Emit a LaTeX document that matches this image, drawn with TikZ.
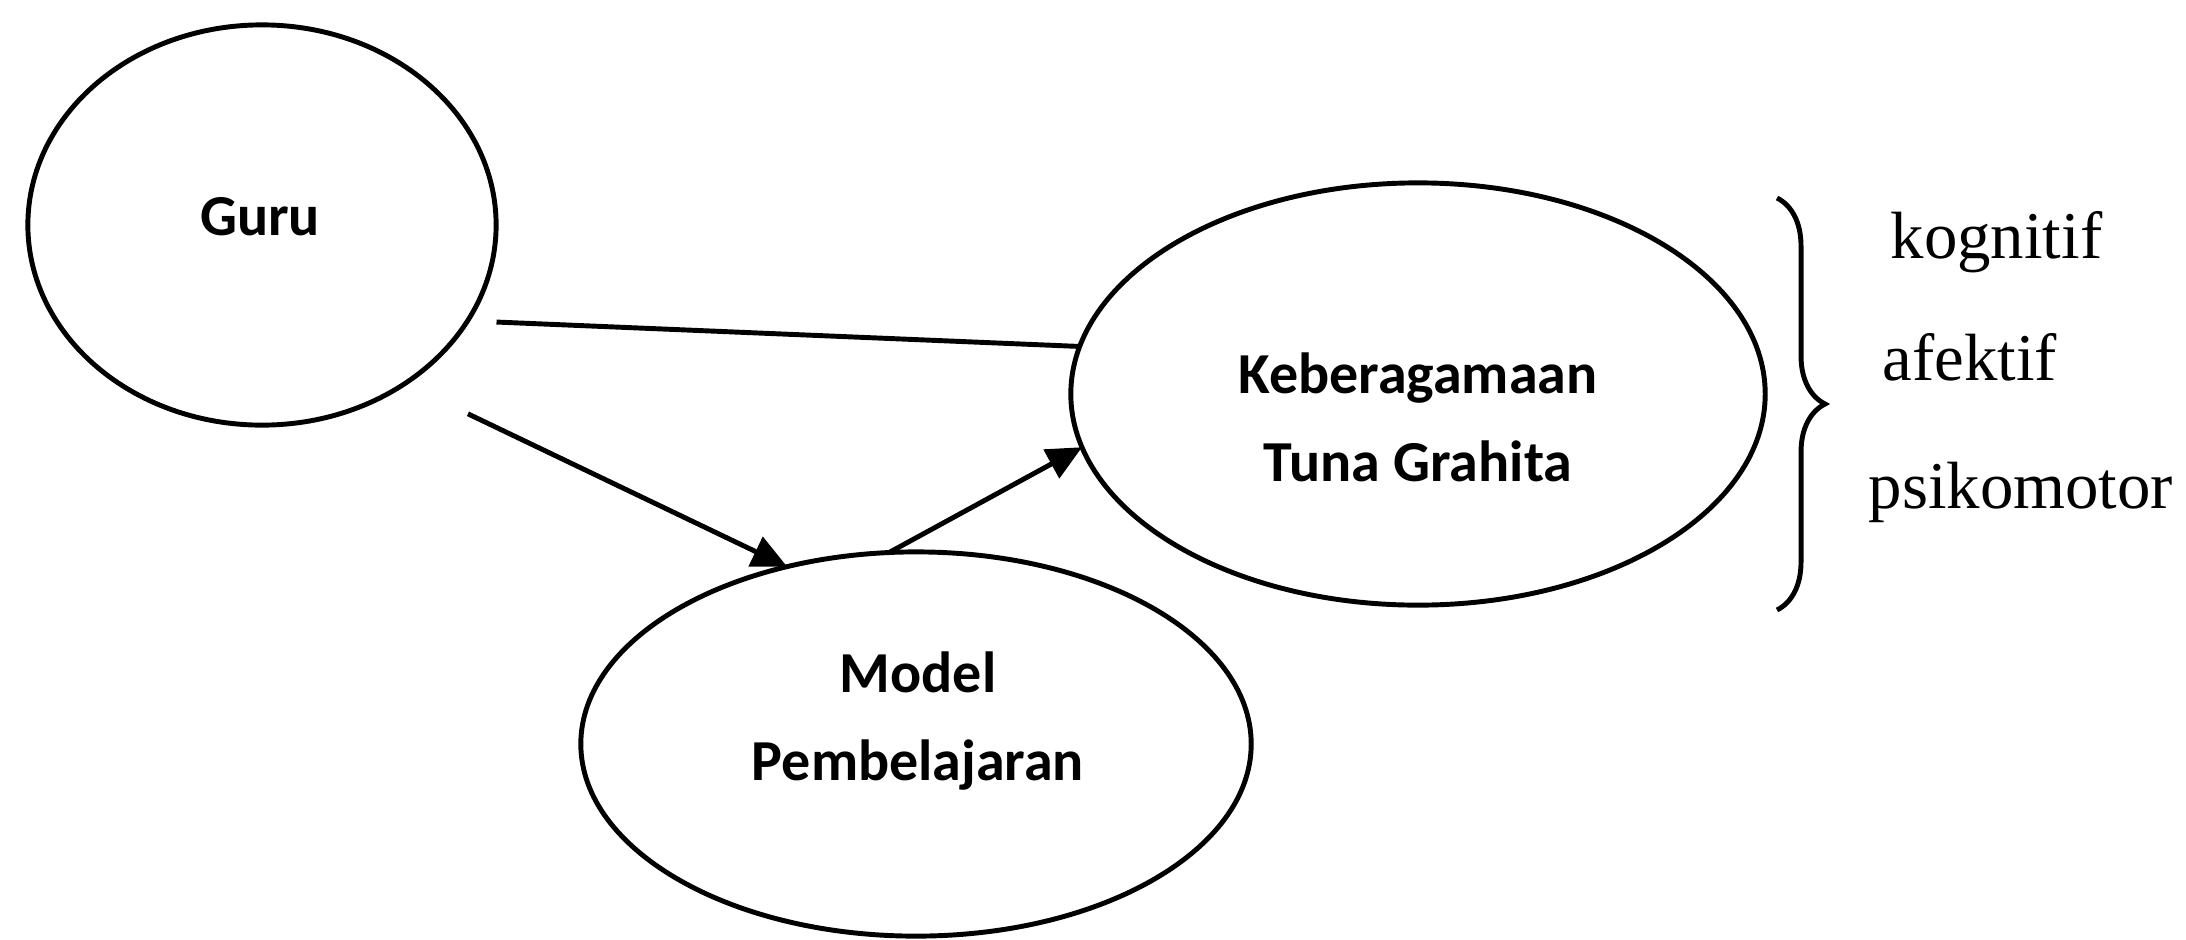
\documentclass[tikz,border=0pt]{standalone}
\usepackage{fontspec}
\setmainfont{Liberation Serif}
\newfontfamily\carlito{Carlito}
\usetikzlibrary{shapes.geometric,arrows.meta,decorations.pathreplacing}
\tikzstyle{bubble}=[ellipse,draw=black,line width=1.4pt,
                    inner sep=0pt,outer sep=0pt]
\tikzstyle{bubbletext}=[font=\carlito\bfseries\fontsize{16.5}{25}\selectfont,
                        align=center,inner sep=0pt]
\tikzstyle{aspect}=[font=\fontsize{19}{23}\selectfont,
                    anchor=base west,inner sep=0pt]
\tikzstyle{link}=[line width=1.4pt]
\tikzstyle{flow}=[link,-{Triangle[length=3.5mm,width=3.2mm]}]

\begin{document}
\begin{tikzpicture}[x=0.01cm,y=-0.01cm]
    \useasboundingbox (0,0) rectangle (2186,939);
    \node (guru)  at ( 262,225) [bubble,minimum width=4.68cm,minimum height=4.00cm]{};
    \node (kebe)  at (1418,394) [bubble,minimum width=6.94cm,minimum height=4.22cm]{};
    \node (model) at ( 916,744) [bubble,minimum width=6.70cm,minimum height=3.84cm]{};
    \node (gurut)  at ( 260,235) [bubbletext,anchor=base]{Guru};
    \node (kebet)  at (1418,417) [bubbletext]{Keberagamaan\\Tuna Grahita};
    \node (modelt) at ( 918,721) [bubbletext]{Model\\Pembelajaran};
    % connectors
    \draw[link,shorten <=2.9mm] (guru.-25) -- (kebe.172);
    \draw[flow,shorten <=7mm] (guru.-48) -- (model.126);
    \draw[flow] (model.98) -- (kebe.189);
    % brace and aspects
    \draw[link,decorate,decoration={brace,amplitude=4.8mm}] (1777,198) -- (1777,610);
    \node (kog) at (1890,258) [aspect]{kognitif};
    \node (afe) at (1882,380) [aspect]{afektif};
    \node (psi) at (1868,508) [aspect]{psikomotor};
\end{tikzpicture}
\end{document}
